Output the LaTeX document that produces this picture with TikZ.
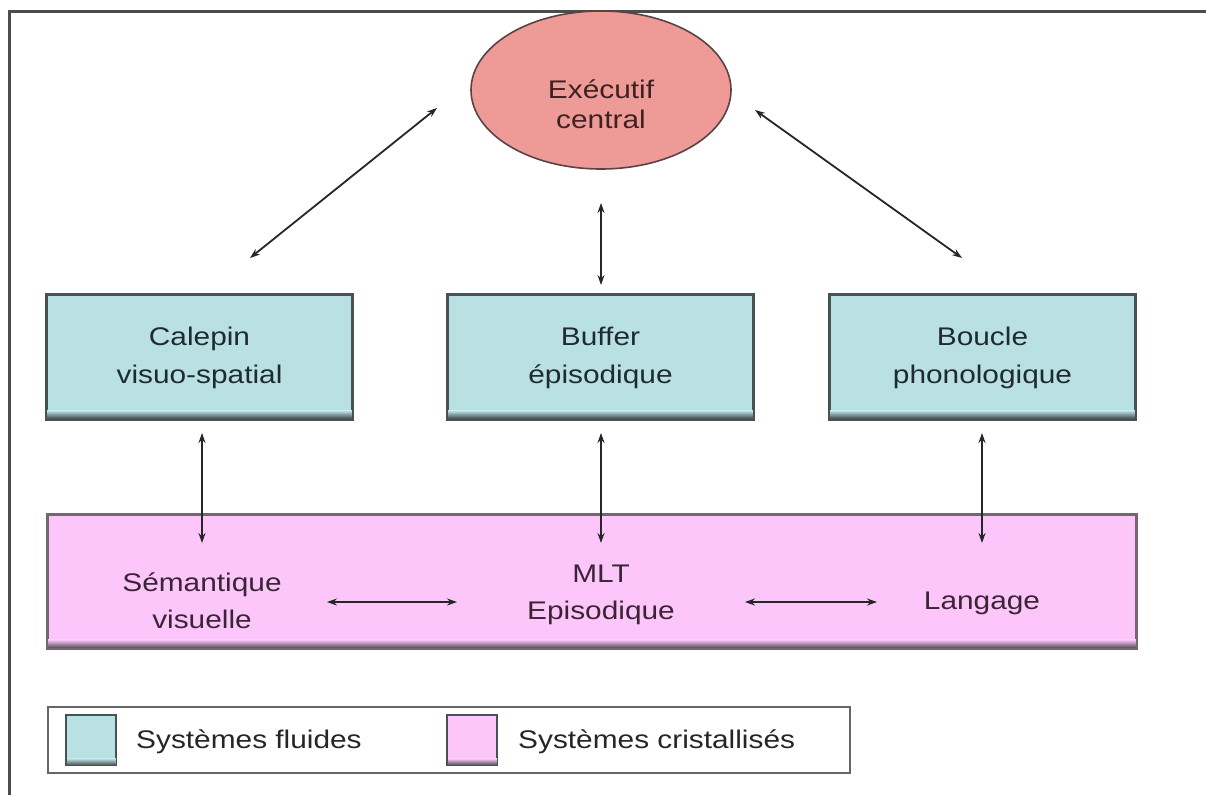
\documentclass[tikz,border=0pt]{standalone}
\usepackage{fontspec}
\setmainfont{Liberation Sans}[FakeStretch=1.17]
\usetikzlibrary{arrows.meta,shapes.geometric}
\definecolor{bluefill}{HTML}{B9E1E4}
\definecolor{pinkfill}{HTML}{FCC6FA}
\definecolor{salmon}{HTML}{EE9A97}
\definecolor{bluetxt}{HTML}{1F2B30}
\definecolor{pinktxt}{HTML}{3A2535}
\definecolor{redtxt}{HTML}{3E2222}
\definecolor{edge}{HTML}{485254}
\tikzset{
  fluid/.style={draw=edge, line width=1.6pt, fill=bluefill, minimum width=305pt, minimum height=124pt, inner sep=0pt},
  cryst/.style={draw=pinktxt!70, line width=1.6pt, fill=pinkfill, inner sep=0pt},
  boxtext/.style={font=\fontsize{25.5}{38}\selectfont, align=center, text=bluetxt},
  pinktext/.style={font=\fontsize{25.5}{37}\selectfont, align=center, text=pinktxt},
  conn/.style={{Stealth[length=10pt,width=7pt]}-{Stealth[length=10pt,width=7pt]}, line width=1.8pt, draw=black!85},
  swatch/.style={draw=edge, line width=1.3pt, minimum width=49pt, minimum height=50pt, inner sep=0pt},
}
\begin{document}
\begin{tikzpicture}[x=1pt,y=-1pt]
\useasboundingbox (0,0) rectangle (1206,795);
\fill[white] (0,0) rectangle (1206,795);
\draw[line width=3pt, black!70] (9,795) -- (9,11) -- (1206,11);

% central executive
\node[ellipse, draw=redtxt!85, line width=1.6pt, fill=salmon, minimum width=260pt, minimum height=158pt] (exec) at (601,90) {};
\node[font=\fontsize{25.5}{30}\selectfont, align=center, text=redtxt] (exectxt) at (601,104) {Exécutif\\central};

% fluid boxes
\node[fluid] (cal) at (199.5,357) {};
\node[fluid] (buf) at (600.5,357) {};
\node[fluid] (bou) at (982.5,357) {};
\foreach \n in {cal,buf,bou}{
  \shade[top color=bluefill, bottom color=black!80] ([yshift=9pt]\n.south west) rectangle (\n.south east);
  \draw[draw=edge, line width=1.6pt] (\n.south west) rectangle (\n.north east);
}
\node[boxtext] (caltxt) at (199.5,358) {Calepin\\visuo-spatial};
\node[boxtext] (buftxt) at (600.5,358) {Buffer\\épisodique};
\node[boxtext] (boutxt) at (982.5,358) {Boucle\\phonologique};

% crystallized box
\node[cryst, minimum width=1088pt, minimum height=133pt] (mlt) at (592,581.5) {};
\shade[top color=pinkfill, bottom color=black!75] ([yshift=9pt]mlt.south west) rectangle (mlt.south east);
\draw[draw=pinktxt!70, line width=1.6pt] (mlt.south west) rectangle (mlt.north east);
\node[pinktext] (sem) at (202,601) {Sémantique\\visuelle};
\node[pinktext] (epi) at (601,595) {MLT\\Episodique};
\node[pinktext] (lang) at (982,603) {Langage};

% connector end points
\coordinate (e1) at (437,108);
\coordinate (c1) at (250,258);
\coordinate (e2) at (601,203);
\coordinate (b2) at (601,285);
\coordinate (e3) at (755,110);
\coordinate (p3) at (962,258);
\coordinate (cal1) at (202,433);
\coordinate (sem1) at (202,543);
\coordinate (buf1) at (601,433);
\coordinate (epi1) at (601,543);
\coordinate (bou1) at (982,433);
\coordinate (lang1) at (982,543);
\coordinate (h1) at (327,602);
\coordinate (h2) at (457,602);
\coordinate (h3) at (745,602);
\coordinate (h4) at (877,602);

\draw[conn] (e1) -- (c1);
\draw[conn] (e2) -- (b2);
\draw[conn] (e3) -- (p3);
\draw[conn] (cal1) -- (sem1);
\draw[conn] (buf1) -- (epi1);
\draw[conn] (bou1) -- (lang1);
\draw[conn] (h1) -- (h2);
\draw[conn] (h3) -- (h4);

% legend
\node[draw=black!60, line width=1.3pt, fill=white, minimum width=802pt, minimum height=66pt, inner sep=0pt] (legend) at (449,740) {};
\node[swatch, fill=bluefill] (sw1) at (91,740) {};
\shade[top color=bluefill, bottom color=black!75] ([yshift=7pt]sw1.south west) rectangle (sw1.south east);
\draw[draw=edge, line width=1.3pt] (sw1.south west) rectangle (sw1.north east);
\node[swatch, fill=pinkfill] (sw2) at (472,740) {};
\shade[top color=pinkfill, bottom color=black!75] ([yshift=7pt]sw2.south west) rectangle (sw2.south east);
\draw[draw=edge, line width=1.3pt] (sw2.south west) rectangle (sw2.north east);
\node[font=\fontsize{25.5}{30}\selectfont, text=black!85, anchor=west, inner sep=0pt] (lg1) at (136,742) {Systèmes fluides};
\node[font=\fontsize{25.5}{30}\selectfont, text=black!85, anchor=west, inner sep=0pt] (lg2) at (518,742) {Systèmes cristallisés};
\end{tikzpicture}
\end{document}
